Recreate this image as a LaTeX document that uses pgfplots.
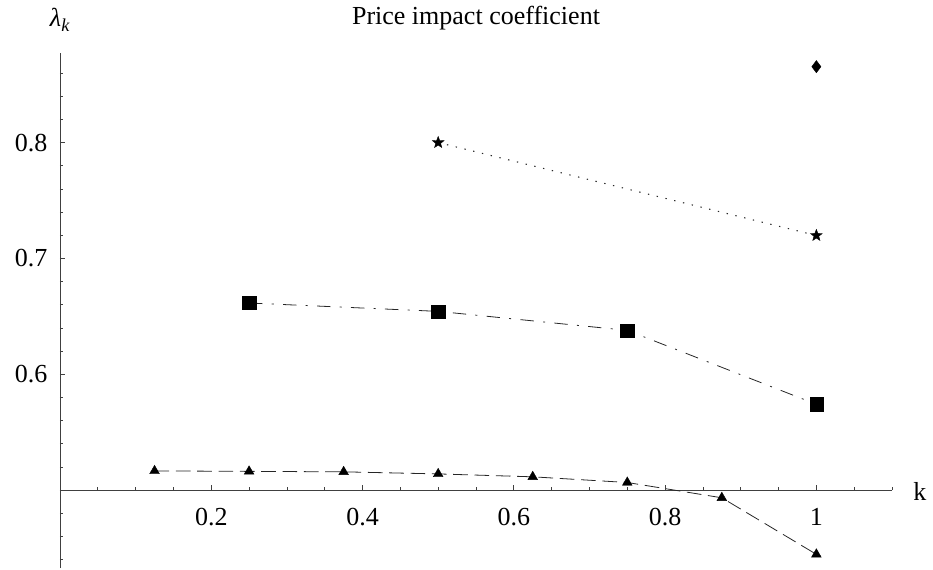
\documentclass[border=0pt]{standalone}
\usepackage{fontspec}
\setmainfont{Liberation Serif}
\usepackage{pgfplots}
\pgfplotsset{compat=1.18}

% filled five-pointed star
\pgfdeclareplotmark{fstar}{%
  \pgfpathmoveto{\pgfpointpolar{90}{\pgfplotmarksize}}%
  \pgfpathlineto{\pgfpointpolar{126}{0.42\pgfplotmarksize}}%
  \pgfpathlineto{\pgfpointpolar{162}{\pgfplotmarksize}}%
  \pgfpathlineto{\pgfpointpolar{198}{0.42\pgfplotmarksize}}%
  \pgfpathlineto{\pgfpointpolar{234}{\pgfplotmarksize}}%
  \pgfpathlineto{\pgfpointpolar{270}{0.42\pgfplotmarksize}}%
  \pgfpathlineto{\pgfpointpolar{306}{\pgfplotmarksize}}%
  \pgfpathlineto{\pgfpointpolar{342}{0.42\pgfplotmarksize}}%
  \pgfpathlineto{\pgfpointpolar{18}{\pgfplotmarksize}}%
  \pgfpathlineto{\pgfpointpolar{54}{0.42\pgfplotmarksize}}%
  \pgfpathclose
  \pgfusepathqfillstroke}

\newcommand\lbl{\fontsize{19.5}{22}\selectfont}

\begin{document}
\begin{tikzpicture}
\begin{axis}[
  scale only axis, width=624pt, height=386.25pt,
  at={(45pt,0.75pt)}, anchor=south west,
  xmin=0, xmax=1.1, ymin=0.4328, ymax=0.8773,
  axis x line=bottom, axis y line=left,
  axis x line shift=-58.4pt,
  axis line style={draw=black!75, line width=0.7pt, -},
  xtick={0.2,0.4,0.6,0.8,1}, xticklabels={0.2,0.4,0.6,0.8,1},
  minor xtick={0.05,0.1,0.15,0.25,0.3,0.35,0.45,0.5,0.55,0.65,0.7,0.75,0.85,0.9,0.95,1.05,1.1},
  ytick={0.6,0.7,0.8}, yticklabels={0.6,0.7,0.8},
  minor ytick={0.44,0.46,0.48,0.50,0.52,0.54,0.56,0.58,0.62,0.64,0.66,0.68,0.72,0.74,0.76,0.78,0.82,0.84,0.86},
  tick align=inside, major tick length=4pt, minor tick length=2.3pt,
  tick style={draw=black!75, line width=0.6pt},
  ticklabel style={font=\lbl},
  xticklabel style={yshift=-10pt},
  yticklabel style={xshift=-6pt},
  title={Price impact coefficient},
  title style={font=\lbl, at={(0.5,1)}, anchor=base, yshift=15pt},
  clip=false,
]
% k = 1/8, ..., 1
\addplot[black!85, line width=0.6pt, dash pattern=on 11pt off 5pt,
  mark=triangle*, mark size=4.2pt, mark options={solid, fill=black, draw=black, line width=0.3pt}]
  coordinates {(0.125,0.5166) (0.25,0.5162) (0.375,0.5158) (0.5,0.5140)
               (0.625,0.5115) (0.75,0.5066) (0.875,0.4934) (1,0.4446)};
% k = 1/4, ..., 1
\addplot[black!85, line width=0.6pt, dash pattern=on 10pt off 7pt on 1.5pt off 7pt,
  mark=square*, mark size=5pt, mark options={solid, fill=black, draw=black, line width=0.3pt}]
  coordinates {(0.25,0.6615) (0.5,0.6543) (0.75,0.6379) (1,0.5741)};
% k = 1/2, 1
\addplot[black!85, line width=0.8pt, dash pattern=on 1pt off 5.75pt,
  mark=fstar, mark size=4.6pt, mark options={solid, fill=black, draw=black, line width=0.3pt}]
  coordinates {(0.5,0.8000) (1,0.7198)};
% k = 1
\addplot[only marks, mark=diamond*, mark size=4.6pt,
  mark options={fill=black, draw=black, line width=0.3pt}]
  coordinates {(1,0.8655)};

\node[anchor=base, font=\lbl] at (rel axis cs:0,1) [yshift=19.5pt]
  {\itshape λ\textsubscript{k}};
\node[anchor=base west, font=\lbl] at (axis cs:1.1,0.5) [xshift=12.5pt, yshift=-7.5pt] {k};
\end{axis}
\pgfresetboundingbox
\path[use as bounding box] (0,0) rectangle (699.75pt,426.75pt);
\end{tikzpicture}
\end{document}
